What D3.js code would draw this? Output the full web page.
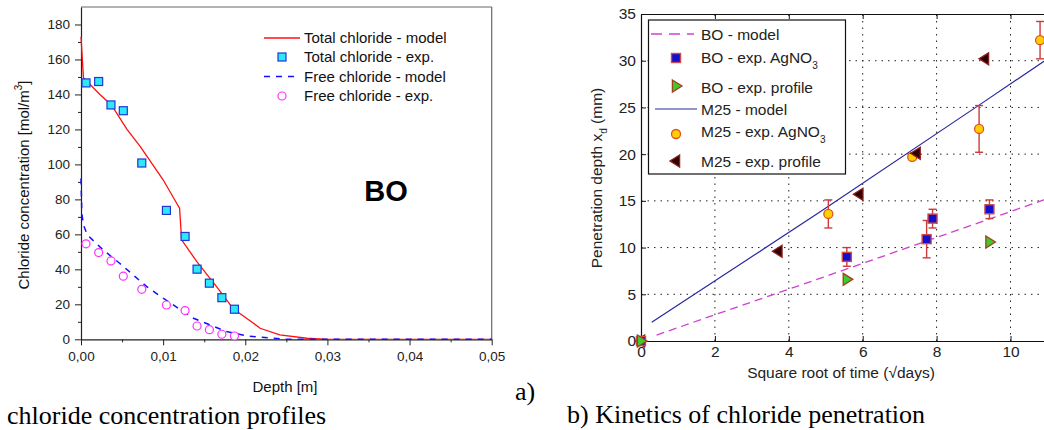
<!DOCTYPE html>
<html>
<head>
<meta charset="UTF-8" />
<title>chloride</title>
<script src="https://d3js.org/d3.v7.min.js"></script>
<style>
  body { margin: 0; background: #fff; }
  text { font-family: "Liberation Sans", Arial, sans-serif; }
  .serif { font-family: "Liberation Serif", "Times New Roman", serif; }
</style>
</head>
<body>
<svg id="chart" width="1044" height="430"></svg>
<script>
// ---- a) chloride profiles, BO ----
var depthTotalModel = [0, 0.0003, 0.0023, 0.0037, 0.0056, 0.0072, 0.0100, 0.0114, 0.0120, 0.01225, 0.0141, 0.0165, 0.0185, 0.0193, 0.0210, 0.0218, 0.0242, 0.0275, 0.0300, 0.0500]
var totalModel = [173, 149.5, 140, 134, 120, 110.3, 91.2, 79.8, 75, 56.9, 44.4, 30.1, 17.7, 14.9, 9.2, 6.3, 2.5, 0.6, 0, 0]
var depthFreeModel = [0, 0.0001, 0.0003, 0.00077, 0.0027, 0.0047, 0.0080, 0.0100, 0.0137, 0.0177, 0.0202, 0.0250, 0.0500]
var freeModel = [92, 72, 65.4, 59.7, 51.1, 43.5, 30.1, 23.5, 12, 4.4, 1.9, 0, 0]
var depthExp = [0.00061, 0.00215, 0.00365, 0.00515, 0.0074, 0.0104, 0.01267, 0.01413, 0.01563, 0.01715, 0.01868]
var totalExp = [146.6, 147.4, 134, 130.7, 100.8, 73.7, 58.8, 40.1, 32.1, 23.8, 17.2]
var freeExp = [54.6, 49.6, 44.8, 36.1, 28.6, 19.6, 16.4, 7.6, 5.5, 2.9, 1.9]
var leftYTicks = [0, 20, 40, 60, 80, 100, 120, 140, 160, 180]
var leftXTicks = [0, 0.01, 0.02, 0.03, 0.04, 0.05]
var leftLabels = ["Total chloride - model", "Total chloride - exp.", "Free chloride - model", "Free chloride - exp."]

// ---- b) penetration kinetics ----
var boModelX = [0.42, 4.84, 10.9, 11.3]
var boModelY = [0.64, 6.7, 15.1, 15.6]
var m25ModelX = [0.29, 4.84, 9.17, 11.3]
var m25ModelY = [2.0, 13.8, 25.3, 31.0]
var boAgX = [0, 5.57, 7.73, 7.89, 9.43]
var boAgY = [0, 9.0, 10.9, 13.1, 14.1]
var boAgErr = [0, 1.0, 2.0, 1.0, 1.0]
var boProfX = [0, 5.57, 9.43]
var boProfY = [0, 6.6, 10.6]
var m25AgX = [0, 5.07, 7.34, 9.15, 10.8]
var m25AgY = [0, 13.6, 19.7, 22.7, 32.2]
var m25AgErr = [0, 1.5, 0.3, 2.5, 2.0]
var m25ProfX = [0, 3.72, 5.91, 7.46, 9.31]
var m25ProfY = [0, 9.6, 15.7, 20.1, 30.2]
var rightYTicks = [0, 5, 10, 15, 20, 25, 30, 35]
var rightXTicks = [0, 2, 4, 6, 8, 10]

var svg = d3.select("#chart")

// ================= left chart =================
var xL = d3.scaleLinear().domain([0, 0.05]).range([81, 491.7])
var yL = d3.scaleLinear().domain([0, 190]).range([339.3, 7])
var gL = svg.append("g")

// frame top/right
gL.append("line").attr("x1", xL(0)).attr("x2", xL(0.05)).attr("y1", yL(190)).attr("y2", yL(190))
  .attr("stroke", "#666").attr("stroke-width", 1.2)
gL.append("line").attr("x1", xL(0.05)).attr("x2", xL(0.05)).attr("y1", yL(190)).attr("y2", yL(0))
  .attr("stroke", "#666").attr("stroke-width", 1.2)

// minor ticks
gL.append("g").attr("transform", "translate(" + xL(0) + ",0)")
  .call(d3.axisLeft(yL).tickValues(d3.range(10, 190, 20)).tickSize(3).tickFormat(""))
  .call(g => g.select(".domain").remove())
gL.append("g").attr("transform", "translate(0," + yL(0) + ")")
  .call(d3.axisBottom(xL).tickValues([0.005, 0.015, 0.025, 0.035, 0.045]).tickSize(3).tickFormat(""))
  .call(g => g.select(".domain").remove())

var yAxL = gL.append("g").attr("transform", "translate(" + xL(0) + ",0)")
  .call(d3.axisLeft(yL).tickValues(leftYTicks).tickSize(6).tickPadding(5).tickSizeOuter(0))
var xAxL = gL.append("g").attr("transform", "translate(0," + yL(0) + ")")
  .call(d3.axisBottom(xL).tickValues(leftXTicks).tickSize(6).tickPadding(6).tickSizeOuter(0)
    .tickFormat(d => d3.format(".2f")(d).replace(".", ",")))
;[yAxL, xAxL].forEach(a => {
  a.selectAll("text").attr("font-size", 13.5).attr("fill", "#222").attr("font-family", "Liberation Sans, Arial")
  a.select(".domain").attr("stroke", "#222").attr("stroke-width", 1.2)
})
gL.selectAll(".tick line").attr("stroke", "#222")

// lines
var lineL = d3.line().x(d => xL(d[0])).y(d => yL(d[1]))
gL.append("path").datum(d3.zip(depthTotalModel, totalModel)).attr("d", lineL)
  .attr("fill", "none").attr("stroke", "#ff1010").attr("stroke-width", 1.3)
gL.append("path").datum(d3.zip(depthFreeModel, freeModel)).attr("d", lineL)
  .attr("fill", "none").attr("stroke", "#1010ff").attr("stroke-width", 1.5).attr("stroke-dasharray", "6,6")

// markers
gL.selectAll(".sq").data(d3.zip(depthExp, totalExp)).enter().append("rect")
  .attr("x", d => xL(d[0]) - 4).attr("y", d => yL(d[1]) - 4).attr("width", 8).attr("height", 8)
  .attr("fill", "#2ee8f6").attr("stroke", "#2036d8").attr("stroke-width", 1.2)
gL.selectAll(".ci").data(d3.zip(depthExp, freeExp)).enter().append("circle")
  .attr("cx", d => xL(d[0])).attr("cy", d => yL(d[1])).attr("r", 4)
  .attr("fill", "#fff").attr("stroke", "#ff30ff").attr("stroke-width", 1.2)

// legend
var legL = gL.append("g")
var legLy = [38, 57, 76.5, 96]
legL.selectAll("text").data(leftLabels).enter().append("text")
  .attr("x", 304).attr("y", (d, i) => legLy[i] + 5).attr("font-size", 15).attr("fill", "#111").text(d => d)
legL.append("line").attr("x1", 264).attr("x2", 300).attr("y1", legLy[0]).attr("y2", legLy[0])
  .attr("stroke", "#ff1010").attr("stroke-width", 1.3)
legL.append("rect").attr("x", 278).attr("y", legLy[1] - 4).attr("width", 8).attr("height", 8)
  .attr("fill", "#2ee8f6").attr("stroke", "#2036d8").attr("stroke-width", 1.2)
legL.append("line").attr("x1", 264).attr("x2", 300).attr("y1", legLy[2]).attr("y2", legLy[2])
  .attr("stroke", "#1010ff").attr("stroke-width", 1.5).attr("stroke-dasharray", "6,6")
legL.append("circle").attr("cx", 282).attr("cy", legLy[3]).attr("r", 4)
  .attr("fill", "#fff").attr("stroke", "#ff30ff").attr("stroke-width", 1.2)

gL.append("text").attr("x", 386).attr("y", 201).attr("text-anchor", "middle")
  .attr("font-size", 29).attr("font-weight", "bold").text("BO")

var ylab = gL.append("text").attr("transform", "translate(29,185) rotate(-90)")
  .attr("text-anchor", "middle").attr("font-size", 15).attr("fill", "#111")
ylab.append("tspan").text("Chloride concentration [mol/m")
ylab.append("tspan").attr("font-size", 10).attr("dy", -7).text("3")
ylab.append("tspan").attr("dy", 7).text("]")
gL.append("text").attr("x", 285).attr("y", 392).attr("text-anchor", "middle")
  .attr("font-size", 15).attr("fill", "#111").text("Depth [m]")

// ================= right chart =================
var xR = d3.scaleLinear().domain([0, 12]).range([641, 641 + 12 * 36.95])
var yR = d3.scaleLinear().domain([0, 35]).range([341, 14])
var gR = svg.append("g")

// dotted grid
gR.selectAll(".gv").data(rightXTicks.slice(1)).enter().append("line")
  .attr("x1", d => xR(d)).attr("x2", d => xR(d)).attr("y1", yR(0)).attr("y2", yR(35))
  .attr("stroke", "#222").attr("stroke-width", 1).attr("stroke-dasharray", "1.5,5")
gR.selectAll(".gh").data(rightYTicks.slice(1, -1)).enter().append("line")
  .attr("x1", xR(0)).attr("x2", xR(12)).attr("y1", d => yR(d)).attr("y2", d => yR(d))
  .attr("stroke", "#222").attr("stroke-width", 1).attr("stroke-dasharray", "1.5,5")

var yAxR = gR.append("g").attr("transform", "translate(" + xR(0) + ",0)")
  .call(d3.axisLeft(yR).tickValues(rightYTicks).tickSize(-5).tickPadding(5).tickSizeOuter(0))
var xAxR = gR.append("g").attr("transform", "translate(0," + yR(0) + ")")
  .call(d3.axisBottom(xR).tickValues(rightXTicks).tickSize(-5).tickPadding(5).tickSizeOuter(0))
var topR = gR.append("g").attr("transform", "translate(0," + yR(35) + ")")
  .call(d3.axisTop(xR).tickValues(rightXTicks).tickSize(-5).tickFormat("").tickSizeOuter(0))
;[yAxR, xAxR, topR].forEach(a => {
  a.selectAll("text").attr("font-size", 15.5).attr("fill", "#222").attr("font-family", "Liberation Sans, Arial")
  a.select(".domain").attr("stroke", "#111").attr("stroke-width", 1.2)
  a.selectAll(".tick line").attr("stroke", "#111")
})

var lineR = d3.line().x(d => xR(d[0])).y(d => yR(d[1]))
gR.append("path").datum(d3.zip(boModelX, boModelY)).attr("d", lineR)
  .attr("fill", "none").attr("stroke", "#d040d0").attr("stroke-width", 1.3).attr("stroke-dasharray", "8,5")
gR.append("path").datum(d3.zip(m25ModelX, m25ModelY)).attr("d", lineR)
  .attr("fill", "none").attr("stroke", "#2828a0").attr("stroke-width", 1.2)

// error bars
function errBars(xs, ys, es) {
  var d = d3.zip(xs, ys, es).filter(v => v[2] > 0)
  var g = gR.append("g").attr("stroke", "#cc3b3b").attr("stroke-width", 1.4)
  g.selectAll(".v").data(d).enter().append("line")
    .attr("x1", v => xR(v[0])).attr("x2", v => xR(v[0])).attr("y1", v => yR(v[1] - v[2])).attr("y2", v => yR(v[1] + v[2]))
  g.selectAll(".t").data(d).enter().append("line")
    .attr("x1", v => xR(v[0]) - 4).attr("x2", v => xR(v[0]) + 4).attr("y1", v => yR(v[1] + v[2])).attr("y2", v => yR(v[1] + v[2]))
  g.selectAll(".b").data(d).enter().append("line")
    .attr("x1", v => xR(v[0]) - 4).attr("x2", v => xR(v[0]) + 4).attr("y1", v => yR(v[1] - v[2])).attr("y2", v => yR(v[1] - v[2]))
}
errBars(boAgX, boAgY, boAgErr)
errBars(m25AgX, m25AgY, m25AgErr)

function tri(cx, cy, dir) {
  var s = 6
  if (dir > 0) return "M" + (cx - s * 0.6) + "," + (cy - s) + "L" + (cx + s) + "," + cy + "L" + (cx - s * 0.6) + "," + (cy + s) + "Z"
  return "M" + (cx + s * 0.6) + "," + (cy - s) + "L" + (cx - s) + "," + cy + "L" + (cx + s * 0.6) + "," + (cy + s) + "Z"
}
function squares(g, data) {
  g.selectAll(".s").data(data).enter().append("rect")
    .attr("x", v => v[0] - 4.5).attr("y", v => v[1] - 4.5).attr("width", 9).attr("height", 9)
    .attr("fill", "#1010d0").attr("stroke", "#d04848").attr("stroke-width", 1.4)
}
function circles(g, data) {
  g.selectAll(".c").data(data).enter().append("circle")
    .attr("cx", v => v[0]).attr("cy", v => v[1]).attr("r", 4.5)
    .attr("fill", "#ffd000").attr("stroke", "#e05020").attr("stroke-width", 1.3)
}
function triangles(g, data, dir, fill, stroke) {
  g.selectAll(".t" + dir).data(data).enter().append("path")
    .attr("d", v => tri(v[0], v[1], dir)).attr("fill", fill).attr("stroke", stroke).attr("stroke-width", 1.3)
}
var pts = gR.append("g")
var px = (xs, ys) => d3.zip(xs, ys).map(v => [xR(v[0]), yR(v[1])])
circles(pts, px(m25AgX, m25AgY))
triangles(pts, px(m25ProfX, m25ProfY), -1, "#300000", "#8a2020")
squares(pts, px(boAgX, boAgY))
triangles(pts, px(boProfX, boProfY), 1, "#3ccc2c", "#a04020")

// legend
var legR = gR.append("g")
legR.append("rect").attr("x", 648.5).attr("y", 20).attr("width", 197).attr("height", 154)
  .attr("fill", "#fff").attr("stroke", "#111").attr("stroke-width", 1.2)
var legRy = [34, 57, 87, 109, 131, 161]
var legRText = [["BO - model", ""], ["BO - exp. AgNO", "3"], ["BO - exp. profile", ""],
  ["M25 - model", ""], ["M25 - exp. AgNO", "3"], ["M25 - exp. profile", ""]]
legRText.forEach((t, i) => {
  var tx = legR.append("text").attr("x", 701).attr("y", legRy[i] + 5.5).attr("font-size", 15.5).attr("fill", "#222")
  tx.append("tspan").text(t[0])
  if (t[1]) tx.append("tspan").attr("font-size", 10).attr("dy", 6).text(t[1])
})
legR.append("line").attr("x1", 651).attr("x2", 694).attr("y1", legRy[0]).attr("y2", legRy[0])
  .attr("stroke", "#d040d0").attr("stroke-width", 1.3).attr("stroke-dasharray", "11,7")
legR.append("line").attr("x1", 655).attr("x2", 697).attr("y1", legRy[3]).attr("y2", legRy[3])
  .attr("stroke", "#2828a0").attr("stroke-width", 1.2)
squares(legR.append("g"), [[676, legRy[1] + 1]])
triangles(legR.append("g"), [[676, legRy[2] - 1]], 1, "#3ccc2c", "#a04020")
circles(legR.append("g"), [[676, legRy[4] + 3]])
triangles(legR.append("g"), [[676, legRy[5]]], -1, "#300000", "#8a2020")

var ylabR = gR.append("text").attr("transform", "translate(602,178) rotate(-90)")
  .attr("text-anchor", "middle").attr("font-size", 15.5).attr("fill", "#222")
ylabR.append("tspan").text("Penetration depth x")
ylabR.append("tspan").attr("font-size", 10).attr("dy", 5).text("d")
ylabR.append("tspan").attr("dy", -5).text(" (mm)")
gR.append("text").attr("x", 841).attr("y", 378).attr("text-anchor", "middle")
  .attr("font-size", 15.5).attr("fill", "#222").text("Square root of time (\u221Adays)")

// captions
svg.append("text").attr("class", "serif").attr("x", 7).attr("y", 424).attr("font-size", 26).text("chloride concentration profiles")
svg.append("text").attr("class", "serif").attr("x", 515).attr("y", 400).attr("font-size", 26).text("a)")
svg.append("text").attr("class", "serif").attr("x", 567).attr("y", 423).attr("font-size", 26).text("b) Kinetics of chloride penetration")
</script>
</body>
</html>
